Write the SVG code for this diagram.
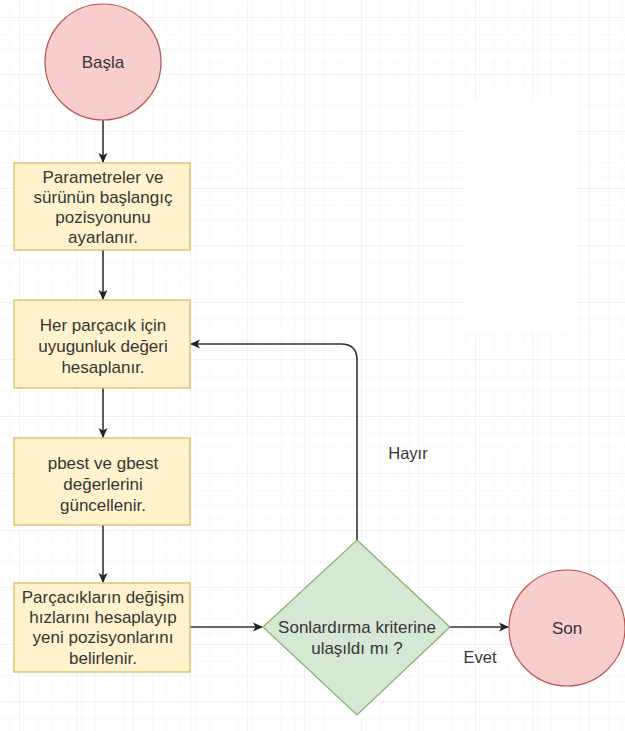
<svg xmlns="http://www.w3.org/2000/svg" width="625" height="731" viewBox="0 0 625 731">
<defs>
<pattern id="minor" x="19" y="17" width="14.25" height="14.25" patternUnits="userSpaceOnUse">
<path d="M14.25 0 L0 0 0 14.25" fill="none" stroke="#f3f3f3" stroke-width="1"/>
</pattern>
<pattern id="major" x="19" y="17" width="57" height="57" patternUnits="userSpaceOnUse">
<rect width="57" height="57" fill="url(#minor)"/>
<path d="M57 0 L0 0 0 57" fill="none" stroke="#e6e6e6" stroke-width="1"/>
</pattern>
<marker id="arr" markerWidth="10" markerHeight="10" refX="9" refY="5" orient="auto" markerUnits="userSpaceOnUse">
<path d="M0,0.5 L10,5 L0,9.5 L2.5,5 Z" fill="#222"/>
</marker>
<style>
.t{font-family:"Liberation Sans",Arial,sans-serif;font-size:17px;fill:#363636;text-anchor:middle}
.l{font-size:16.5px}
.box{fill:#fff2cc;stroke:#d6b656;stroke-width:1.2}
.circ{fill:#f8cecc;stroke:#b85450;stroke-width:1.2}
.dia{fill:#d5e8d4;stroke:#82b366;stroke-width:1.2}
.edge{fill:none;stroke:#333;stroke-width:1.6;marker-end:url(#arr)}
</style>
</defs>
<rect width="625" height="731" fill="#fff"/>
<rect width="625" height="731" fill="url(#major)"/>
<rect x="464" y="100" width="113" height="233" fill="#fff"/>

<g id="connectors">
<path class="edge" d="M103 120 L103 162"/>
<path class="edge" d="M103 250 L103 299"/>
<path class="edge" d="M103 388 L103 437"/>
<path class="edge" d="M103 525 L103 582"/>
<path class="edge" d="M190 627 L262 627"/>
<path class="edge" d="M450 627 L508 627"/>
<path class="edge" d="M357 540 L357 360 Q357 344 341 344 L191 344"/>
<text class="t l" x="408" y="459">Hayır</text>
<text class="t l" x="480" y="663">Evet</text>
</g>

<g id="start">
<circle class="circ" cx="103" cy="62" r="58"/>
<text class="t" x="103" y="68">Başla</text>
</g>

<g id="init">
<rect class="box" x="14" y="163" width="176" height="87"/>
<text class="t" x="103" y="183">Parametreler ve</text>
<text class="t" x="103" y="203">sürünün başlangıç</text>
<text class="t" x="103" y="223">pozisyonunu</text>
<text class="t" x="103" y="243">ayarlanır.</text>
</g>

<g id="fitness">
<rect class="box" x="14" y="300" width="176" height="88"/>
<text class="t" x="103" y="331">Her parçacık için</text>
<text class="t" x="103" y="352">uyugunluk değeri</text>
<text class="t" x="103" y="373">hesaplanır.</text>
</g>

<g id="update">
<rect class="box" x="14" y="438" width="176" height="87"/>
<text class="t" x="103" y="469">pbest ve gbest</text>
<text class="t" x="103" y="490">değerlerini</text>
<text class="t" x="103" y="511">güncellenir.</text>
</g>

<g id="velocity">
<rect class="box" x="14" y="583" width="176" height="89"/>
<text class="t" x="103" y="603">Parçacıkların değişim</text>
<text class="t" x="103" y="623">hızlarını hesaplayıp</text>
<text class="t" x="103" y="643">yeni pozisyonlarını</text>
<text class="t" x="103" y="664">belirlenir.</text>
</g>

<g id="decision">
<path class="dia" d="M357 540 L450 627 L357 715 L263 627 Z"/>
<text class="t" x="357" y="633">Sonlardırma kriterine</text>
<text class="t" x="357" y="654">ulaşıldı mı ?</text>
</g>

<g id="end">
<circle class="circ" cx="567" cy="628" r="58"/>
<text class="t" x="567" y="634">Son</text>
</g>
</svg>
